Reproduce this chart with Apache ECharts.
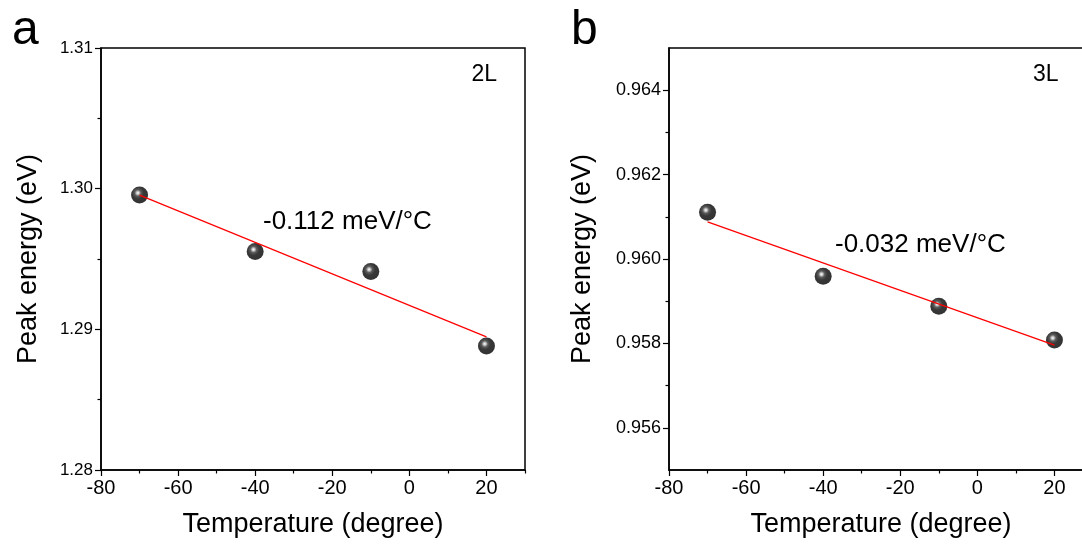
<!DOCTYPE html>
<html>
<head>
<meta charset="utf-8">
<script src="https://cdn.jsdelivr.net/npm/echarts@6/dist/echarts.min.js"></script>
<style>
  html, body { margin: 0; padding: 0; background: #fff; }
  #chart { width: 1082px; height: 545px; }
</style>
</head>
<body>
<div id="chart"></div>
<script>
// temperatures (degree) and peak energies (eV)
var temps = [-70, -40, -10, 20];
var energy2L = [1.29955, 1.29553, 1.29411, 1.28882];
var energy3L = [0.96111, 0.95959, 0.95888, 0.95808];

// linear fit end points (red lines)
var fitX = [-70, 20];
var fit2L = [1.29954, 1.28946];
var fit3L = [0.96088, 0.95796];

// ticks
var xMajor = [-80, -60, -40, -20, 0, 20];
var xMinor = [-70, -50, -30, -10, 10, 30];
var yMajorA = [1.28, 1.29, 1.30, 1.31];
var yMinorA = [1.285, 1.295, 1.305];
var yMajorB = [0.956, 0.958, 0.960, 0.962, 0.964];
var yMinorB = [0.957, 0.959, 0.961, 0.963];

var FONT = 'Liberation Sans';

function pairs(xs, ys) {
    return xs.map(function (x, i) { return [x, ys[i]]; });
}

// black ball with a small highlight
var ball = {
    type: 'radial', x: 0.4, y: 0.38, r: 0.62,
    colorStops: [
        { offset: 0, color: '#ffffff' },
        { offset: 0.12, color: '#c0c0c0' },
        { offset: 0.3, color: '#333333' },
        { offset: 0.55, color: '#060606' },
        { offset: 1, color: '#000000' }
    ]
};

function xAxes(grid) {
    return [
        {
            gridIndex: grid, type: 'value', min: -80, max: 30, position: 'bottom',
            name: 'Temperature (degree)', nameLocation: 'middle', nameGap: 41,
            nameTextStyle: { fontFamily: FONT, fontSize: 27, color: '#000' },
            axisLine: { show: true, onZero: false, lineStyle: { color: '#000', width: 1.5 } },
            axisTick: { show: true, customValues: xMajor, length: 6, lineStyle: { color: '#000', width: 1.2 } },
            axisLabel: { customValues: xMajor, fontFamily: FONT, fontSize: 20, color: '#000', margin: 8 },
            splitLine: { show: false }
        },
        {
            gridIndex: grid, type: 'value', min: -80, max: 30, position: 'bottom',
            axisLine: { show: false, onZero: false },
            axisTick: { show: true, customValues: xMinor, length: 3.5, lineStyle: { color: '#000', width: 1.2 } },
            axisLabel: { show: false },
            splitLine: { show: false }
        }
    ];
}

function yAxes(grid, min, max, major, minor, digits, labelSize, gap) {
    return [
        {
            gridIndex: grid, type: 'value', min: min, max: max, position: 'left',
            name: 'Peak energy (eV)', nameLocation: 'middle', nameGap: gap, nameRotate: 90,
            nameTextStyle: { fontFamily: FONT, fontSize: 27, color: '#000' },
            axisLine: { show: true, onZero: false, lineStyle: { color: '#000', width: 1.5 } },
            axisTick: { show: true, customValues: major, length: 6, lineStyle: { color: '#000', width: 1.2 } },
            axisLabel: {
                customValues: major, fontFamily: FONT, fontSize: labelSize, color: '#000', margin: 8,
                formatter: function (v) { return v.toFixed(digits); }
            },
            splitLine: { show: false }
        },
        {
            gridIndex: grid, type: 'value', min: min, max: max, position: 'left',
            axisLine: { show: false, onZero: false },
            axisTick: { show: true, customValues: minor, length: 3.5, lineStyle: { color: '#000', width: 1.2 } },
            axisLabel: { show: false },
            splitLine: { show: false }
        }
    ];
}

function txt(x, y, text, size, align) {
    return {
        type: 'text', x: x, y: y, z: 10,
        style: {
            text: text, fontFamily: FONT, fontSize: size, fill: '#000',
            align: align || 'left', verticalAlign: 'middle'
        }
    };
}

var chart = echarts.init(document.getElementById('chart'), null, { renderer: 'canvas' });

var option = {
    backgroundColor: '#fff',
    animation: false,
    grid: [
        { left: 101, top: 48, width: 424, height: 422, outerBoundsMode: 'none', show: true, borderColor: '#000', borderWidth: 1.5, backgroundColor: 'transparent' },
        { left: 669, top: 48, width: 424, height: 422, outerBoundsMode: 'none', show: true, borderColor: '#000', borderWidth: 1.5, backgroundColor: 'transparent' }
    ],
    xAxis: xAxes(0).concat(xAxes(1)),
    yAxis: yAxes(0, 1.28, 1.31, yMajorA, yMinorA, 2, 17, 59)
        .concat(yAxes(1, 0.955, 0.965, yMajorB, yMinorB, 3, 18, 73)),
    series: [
        {
            type: 'scatter', xAxisIndex: 0, yAxisIndex: 0, z: 2,
            data: pairs(temps, energy2L), symbol: 'circle', symbolSize: 17,
            itemStyle: { color: ball }
        },
        {
            type: 'line', xAxisIndex: 0, yAxisIndex: 0, z: 3,
            data: pairs(fitX, fit2L), showSymbol: false, symbol: 'none',
            lineStyle: { color: '#ff0000', width: 1.2 }
        },
        {
            type: 'scatter', xAxisIndex: 2, yAxisIndex: 2, z: 2,
            data: pairs(temps, energy3L), symbol: 'circle', symbolSize: 17,
            itemStyle: { color: ball }
        },
        {
            type: 'line', xAxisIndex: 2, yAxisIndex: 2, z: 3,
            data: pairs(fitX, fit3L), showSymbol: false, symbol: 'none',
            lineStyle: { color: '#ff0000', width: 1.2 }
        }
    ],
    graphic: [
        txt(12, 31, 'a', 48),
        txt(571, 31, 'b', 48),
        txt(497, 75, '2L', 23, 'right'),
        txt(1033, 75, '3L', 23),
        txt(263, 222, '-0.112 meV/\u00b0C', 26),
        txt(835, 245, '-0.032 meV/\u00b0C', 26)
    ]
};

chart.setOption(option);
</script>
</body>
</html>
